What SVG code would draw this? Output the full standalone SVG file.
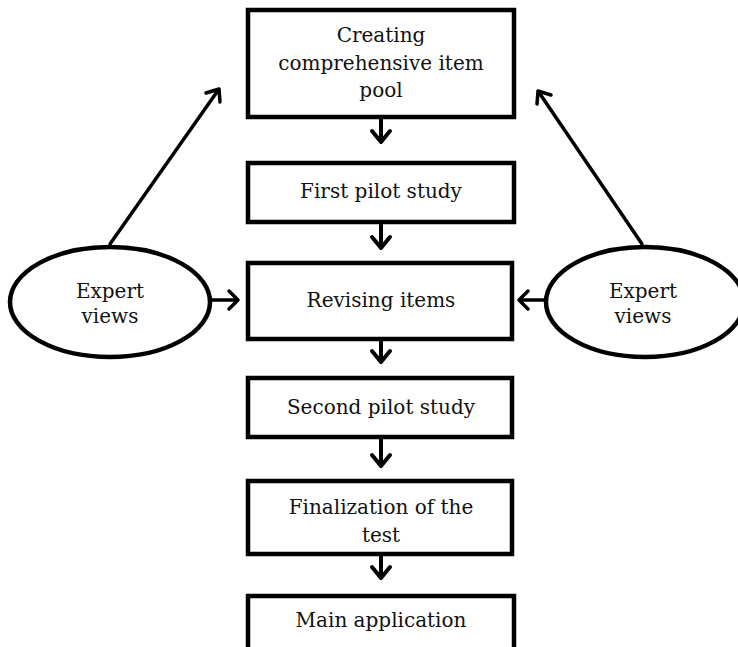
<svg xmlns="http://www.w3.org/2000/svg" width="738" height="647" viewBox="0 0 738 647">
<style>
.box{fill:#fff;stroke:#000;stroke-width:4.5}
.ell{fill:#fff;stroke:#000;stroke-width:4.5}
.t{font-family:"DejaVu Serif","Liberation Serif",serif;font-size:20px;fill:#111;text-anchor:middle}
.c{fill:none;stroke:#000;stroke-width:3.5;stroke-linecap:round;stroke-linejoin:round}
.h{fill:none;stroke:#000;stroke-width:4;stroke-linecap:round;stroke-linejoin:round}
</style>
<g id="connectors">
<path class="h" d="M381,119 V142 M372,131 L381,142 L390,131"/>
<path class="h" d="M381,224 V248 M372,237 L381,248 L390,237"/>
<path class="h" d="M381,341 V362 M372,351 L381,362 L390,351"/>
<path class="h" d="M381,439 V466 M372,455 L381,466 L390,455"/>
<path class="h" d="M381,556 V578 M372,567 L381,578 L390,567"/>
<path class="c" d="M211,300 H238 M229,291 L238,300 L229,309"/>
<path class="c" d="M546,300 H519 M528,291 L519,300 L528,309"/>
<path class="c" d="M110,244 L219,89 M206,93 L219,89 L220,102"/>
<path class="c" d="M642,244 L538,91 M537,104 L538,91 L551,95"/>
</g>
<g id="n1"><rect class="box" x="248" y="10" width="266" height="107"/>
<text class="t" x="381" y="42">Creating</text><text class="t" x="381" y="70">comprehensive item</text><text class="t" x="381" y="97">pool</text></g>
<g id="n2"><rect class="box" x="248" y="163" width="266" height="59"/>
<text class="t" x="381" y="198">First pilot study</text></g>
<g id="n3"><rect class="box" x="248" y="263" width="264" height="76"/>
<text class="t" x="381" y="307">Revising items</text></g>
<g id="n4"><rect class="box" x="248" y="378" width="264" height="59"/>
<text class="t" x="381" y="414">Second pilot study</text></g>
<g id="n5"><rect class="box" x="248" y="481" width="264" height="73"/>
<text class="t" x="381" y="514">Finalization of the</text><text class="t" x="381" y="542">test</text></g>
<g id="n6"><rect class="box" x="248" y="596" width="266" height="60"/>
<text class="t" x="381" y="627">Main application</text></g>
<g id="e1"><ellipse class="ell" cx="110" cy="302" rx="100" ry="55"/>
<text class="t" x="110" y="298">Expert</text><text class="t" x="110" y="323">views</text></g>
<g id="e2"><ellipse class="ell" cx="645" cy="302" rx="99" ry="55"/>
<text class="t" x="643" y="298">Expert</text><text class="t" x="643" y="323">views</text></g>
</svg>
